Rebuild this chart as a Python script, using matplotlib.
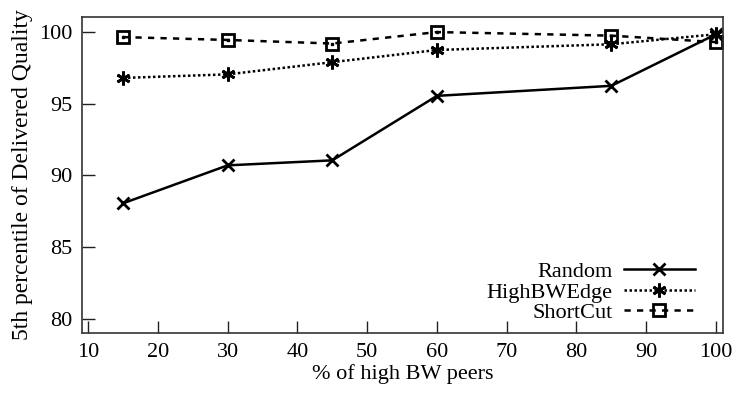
import matplotlib
matplotlib.use("Agg")
import matplotlib.pyplot as plt

# % of high bandwidth peers
x_pct = [15, 30, 45, 60, 85, 100]

random_q = [88.05, 90.7, 91.05, 95.55, 96.25, 99.85]
highbw_q = [96.8, 97.05, 97.9, 98.75, 99.15, 99.85]
shortcut_q = [99.65, 99.45, 99.2, 100.0, 99.75, 99.3]

x_ticks = [10, 20, 30, 40, 50, 60, 70, 80, 90, 100]
y_ticks = [80, 85, 90, 95, 100]

plt.rcParams['font.family'] = ['Liberation Serif', 'DejaVu Serif']
plt.rcParams['font.size'] = 16

fig = plt.figure(figsize=(7.37, 3.96), dpi=100)
ax = fig.add_axes([0.111, 0.159, 0.870, 0.798])

ax.plot(x_pct, random_q, color='black', linestyle='-', linewidth=1.8,
        marker='x', markersize=9, markeredgewidth=2, label='Random')
ax.plot(x_pct, highbw_q, color='black', linestyle=(0, (1, 1)), linewidth=1.8,
        marker=(6, 2, 0), markersize=10, markeredgewidth=2, label='HighBWEdge')
ax.plot(x_pct, shortcut_q, color='black', linestyle=(0, (2.5, 2.5)), linewidth=1.8,
        marker='s', markersize=8, markerfacecolor='none', markeredgewidth=2,
        label='ShortCut')
ax.plot(x_pct, shortcut_q, linestyle='none', marker='s', markersize=1.5,
        color='black')

ax.set_xlim(9.1, 101)
ax.set_ylim(79, 101.05)
ax.set_xticks(x_ticks)
ax.set_yticks(y_ticks)
ax.tick_params(direction='in', length=9, width=1, top=False, right=False,
               pad=7, colors='#222222', labelcolor='black')
for sp in ax.spines.values():
    sp.set_linewidth(1.2)
    sp.set_color('#333333')

ax.set_xlabel('% of high BW peers', labelpad=2)
ax.set_ylabel('5th percentile of Delivered Quality', fontsize=17, labelpad=4)

ax.legend(loc='lower right', bbox_to_anchor=(0.984, -0.025), frameon=False,
          markerfirst=False, handlelength=3.2, handletextpad=0.5,
          labelspacing=0.0, borderaxespad=0.6, borderpad=0.2)

fig.savefig('out.png', dpi=100)
